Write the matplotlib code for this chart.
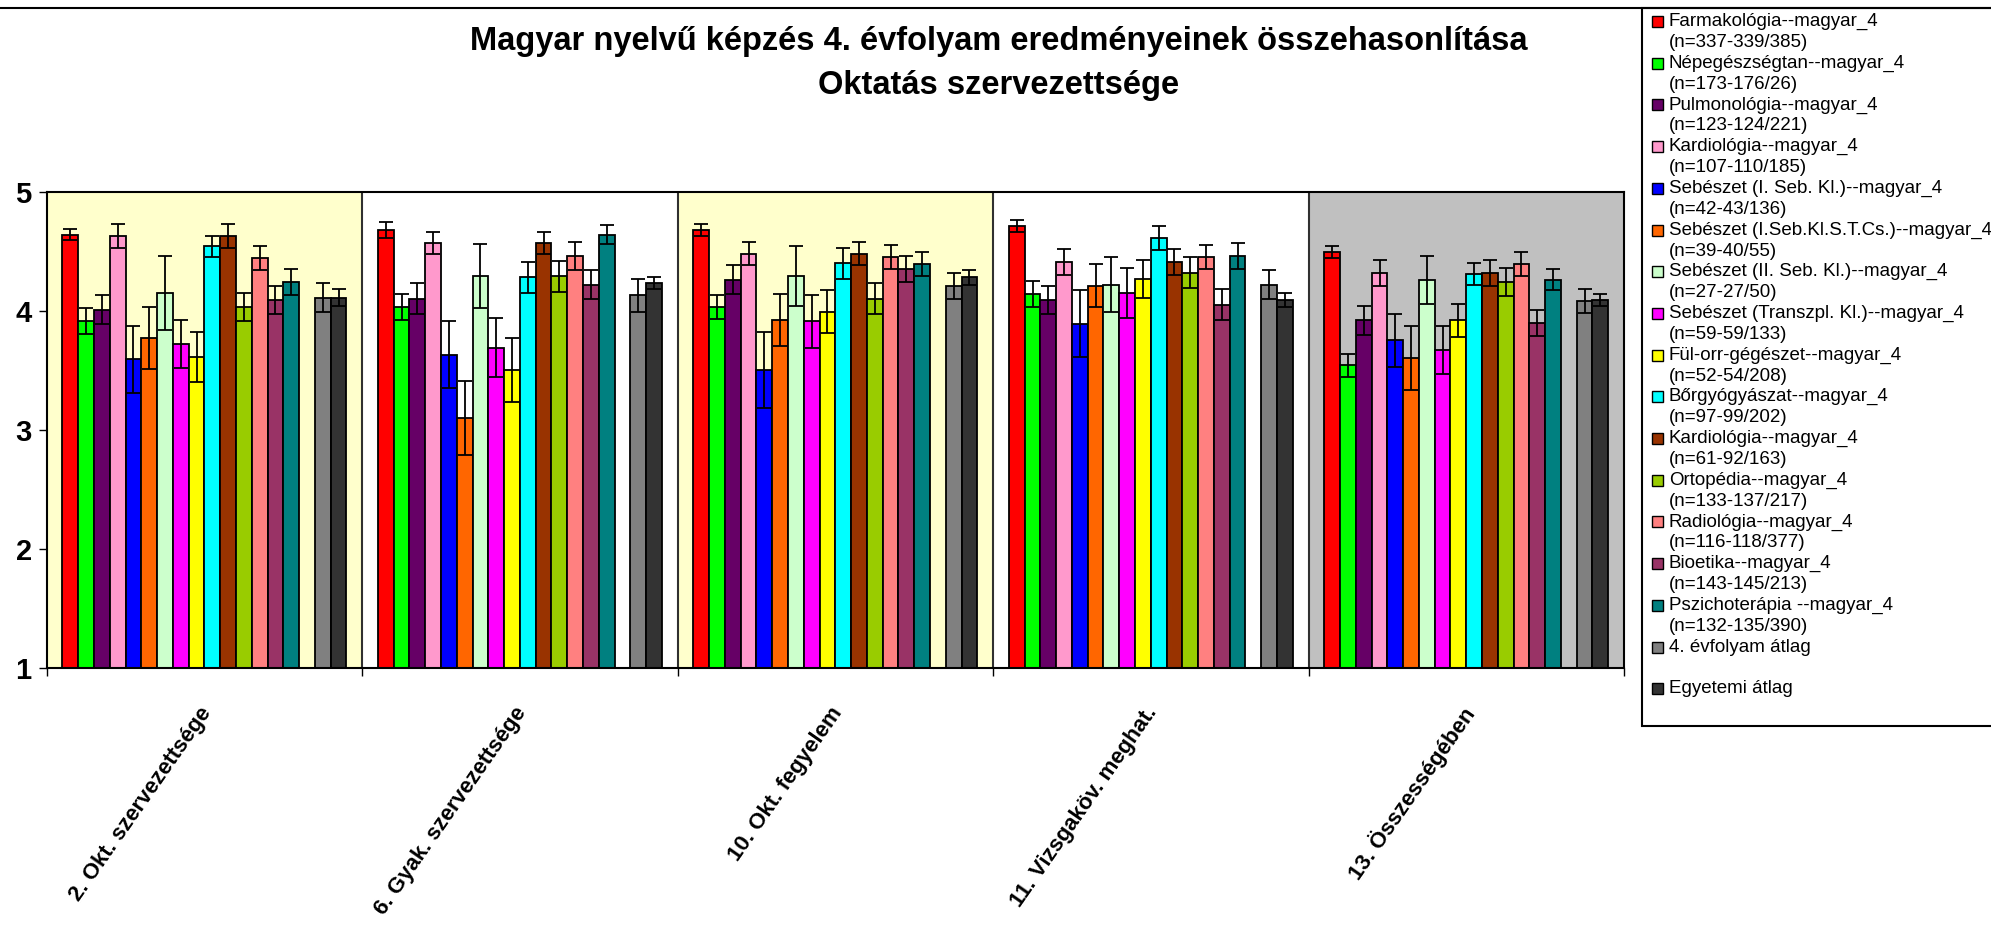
import matplotlib
matplotlib.use("Agg")
import matplotlib.pyplot as plt
import matplotlib.transforms as mtransforms
from matplotlib.patches import Rectangle
from matplotlib.lines import Line2D
import numpy as np

plt.rcParams["font.family"] = ["Liberation Sans", "DejaVu Sans"]

# =====================================
# DATA
# =====================================

categories = [
    "2. Okt. szervezettsége",
    "6. Gyak. szervezettsége",
    "10. Okt. fegyelem",
    "11. Vizsgaköv. meghat.",
    "13. Összességében"
]

series_names = [
    "Farmakológia--magyar_4",
    "Népegészségtan--magyar_4",
    "Pulmonológia--magyar_4",
    "Kardiológia--magyar_4",
    "Sebészet (I. Seb. Kl.)--magyar_4",
    "Sebészet (I.Seb.Kl.S.T.Cs.)--magyar_4",
    "Sebészet (II. Seb. Kl.)--magyar_4",
    "Sebészet (Transzpl. Kl.)--magyar_4",
    "Fül-orr-gégészet--magyar_4",
    "Bőrgyógyászat--magyar_4",
    "Kardiológia--magyar_4",
    "Ortopédia--magyar_4",
    "Radiológia--magyar_4",
    "Bioetika--magyar_4",
    "Pszichoterápia --magyar_4",
    "4. évfolyam átlag",
    "Egyetemi átlag"
]

series_n = [
    "(n=337-339/385)",
    "(n=173-176/26)",
    "(n=123-124/221)",
    "(n=107-110/185)",
    "(n=42-43/136)",
    "(n=39-40/55)",
    "(n=27-27/50)",
    "(n=59-59/133)",
    "(n=52-54/208)",
    "(n=97-99/202)",
    "(n=61-92/163)",
    "(n=133-137/217)",
    "(n=116-118/377)",
    "(n=143-145/213)",
    "(n=132-135/390)",
    "",
    ""
]

series_colors = [
    "#FF0000", "#00FF00", "#660066", "#FF99CC", "#0000FF",
    "#FF6600", "#CCFFCC", "#FF00FF", "#FFFF00", "#00FFFF",
    "#993300", "#99CC00", "#FF8080", "#993366", "#008080",
    "#808080", "#333333"
]

category_bg = ["#FFFFCC", "#FFFFFF", "#FFFFCC", "#FFFFFF", "#C0C0C0"]

# means per category (one value per series)
mean_okt_szerv = [4.64, 3.91, 4.01, 4.63, 3.59, 3.77, 4.15, 3.72, 3.61,
                  4.54, 4.63, 4.03, 4.44, 4.09, 4.24, 4.11, 4.11]
mean_gyak_szerv = [4.68, 4.03, 4.10, 4.57, 3.63, 3.10, 4.29, 3.69, 3.50,
                   4.28, 4.57, 4.29, 4.46, 4.22, 4.64, 4.13, 4.23]
mean_fegyelem = [4.68, 4.03, 4.26, 4.48, 3.50, 3.92, 4.29, 3.91, 3.99,
                 4.40, 4.48, 4.10, 4.45, 4.35, 4.39, 4.21, 4.28]
mean_vizsga = [4.71, 4.14, 4.09, 4.41, 3.89, 4.21, 4.22, 4.15, 4.27,
               4.61, 4.41, 4.32, 4.45, 4.05, 4.46, 4.22, 4.09]
mean_ossz = [4.49, 3.54, 3.92, 4.32, 3.75, 3.60, 4.26, 3.67, 3.92,
             4.31, 4.32, 4.24, 4.39, 3.90, 4.26, 4.08, 4.09]

# error bar half-lengths per category
err_okt_szerv = [0.05, 0.11, 0.12, 0.10, 0.28, 0.26, 0.31, 0.20, 0.21,
                 0.09, 0.10, 0.12, 0.10, 0.12, 0.11, 0.12, 0.07]
err_gyak_szerv = [0.065, 0.11, 0.13, 0.09, 0.28, 0.31, 0.27, 0.25, 0.27,
                  0.13, 0.09, 0.13, 0.12, 0.12, 0.08, 0.14, 0.05]
err_fegyelem = [0.05, 0.10, 0.12, 0.10, 0.32, 0.22, 0.25, 0.22, 0.18,
                0.13, 0.10, 0.13, 0.10, 0.11, 0.10, 0.11, 0.06]
err_vizsga = [0.05, 0.11, 0.12, 0.11, 0.28, 0.18, 0.23, 0.21, 0.16,
              0.10, 0.11, 0.13, 0.10, 0.13, 0.11, 0.12, 0.06]
err_ossz = [0.05, 0.10, 0.12, 0.11, 0.22, 0.27, 0.20, 0.20, 0.14,
            0.09, 0.11, 0.12, 0.10, 0.11, 0.09, 0.10, 0.05]

means = np.array([mean_okt_szerv, mean_gyak_szerv, mean_fegyelem,
                  mean_vizsga, mean_ossz])
errs = np.array([err_okt_szerv, err_gyak_szerv, err_fegyelem,
                 err_vizsga, err_ossz])

# =====================================
# FIGURE
# =====================================

W, H = 1991, 931
fig = plt.figure(figsize=(W / 100, H / 100), dpi=100)

ax = fig.add_axes([46.7 / W, 1 - 667.7 / H, (1624 - 46.7) / W, (667.7 - 191.7) / H])

n_cat = len(categories)
cat_x = np.arange(n_cat)
n_slots = 18
bar_w = 0.05

for i in range(n_cat):
    ax.axvspan(i - 0.5, i + 0.5, color=category_bg[i], zorder=0, lw=0)

for j, name in enumerate(series_names):
    slot = j if j < 15 else j + 1
    offset = -n_slots * bar_w / 2 + bar_w * (slot + 0.5)
    ax.bar(
        cat_x + offset,
        means[:, j],
        width=bar_w,
        color=series_colors[j],
        edgecolor="black",
        linewidth=1.3,
        zorder=2
    )
    ax.errorbar(
        cat_x + offset,
        means[:, j],
        yerr=errs[:, j],
        fmt="none",
        ecolor="black",
        elinewidth=1.3,
        capsize=5,
        capthick=1.3,
        zorder=3
    )

for i in range(n_cat - 1):
    ax.axvline(i + 0.5, color="#303030", lw=1.5, zorder=4)

# =====================================
# AXES
# =====================================

ax.set_xlim(-0.5, n_cat - 0.5)
ax.set_ylim(1, 5)

for s in ax.spines.values():
    s.set_color("black")
    s.set_linewidth(1.5)
    s.set_zorder(5)

ax.set_yticks([1, 2, 3, 4, 5])
ax.tick_params(axis="y", direction="out", length=5.8, width=1,
               labelsize=21, pad=5)
for lbl in ax.get_yticklabels():
    lbl.set_fontweight("bold")

ax.set_xticks(np.arange(n_cat + 1) - 0.5)
ax.set_xticklabels([])
ax.tick_params(axis="x", which="major", direction="out", length=5.8, width=1)
ax.set_xticks(cat_x, minor=True)
ax.set_xticklabels(categories, minor=True, rotation=55, ha="right",
                   va="top", rotation_mode="anchor",
                   fontsize=16, fontweight="bold")
ax.tick_params(axis="x", which="minor", length=0, pad=24)

# nudge the rotated labels a few pixels to the left
shift = mtransforms.ScaledTranslation(-0.06, -0.02, fig.dpi_scale_trans)
for lbl in ax.get_xticklabels(minor=True):
    lbl.set_transform(lbl.get_transform() + shift)

# =====================================
# TITLE
# =====================================

fig.text(999 / W, 1 - 50 / H,
         "Magyar nyelvű képzés 4. évfolyam eredményeinek összehasonlítása",
         ha="center", va="baseline", fontsize=23.5, fontweight="bold")
fig.text(999 / W, 1 - 94 / H, "Oktatás szervezettsége",
         ha="center", va="baseline", fontsize=23.5, fontweight="bold")

# chart area top border
fig.add_artist(Line2D([0, 1], [1 - 8 / H, 1 - 8 / H], color="black",
                      lw=1.5, transform=fig.transFigure))

# =====================================
# LEGEND (drawn by hand, Excel style)
# =====================================

fig.add_artist(Rectangle((1642 / W, 1 - 726 / H), (2000 - 1642) / W,
                         (726 - 8) / H, transform=fig.transFigure,
                         facecolor="white", edgecolor="black", lw=1.5,
                         zorder=1))

base_y = 26
step_y = 41.7
for j, name in enumerate(series_names):
    y = base_y + j * step_y
    fig.add_artist(Rectangle((1652 / W, 1 - (y + 1) / H), 11 / W, 11 / H,
                             transform=fig.transFigure,
                             facecolor=series_colors[j],
                             edgecolor="black", lw=1, zorder=2))
    fig.text(1669 / W, 1 - y / H, name, ha="left", va="baseline",
             fontsize=13.5, zorder=3)
    if series_n[j]:
        fig.text(1669 / W, 1 - (y + 21) / H, series_n[j], ha="left",
                 va="baseline", fontsize=13.5, zorder=3)

fig.savefig("out.png", dpi=100)
plt.close(fig)
